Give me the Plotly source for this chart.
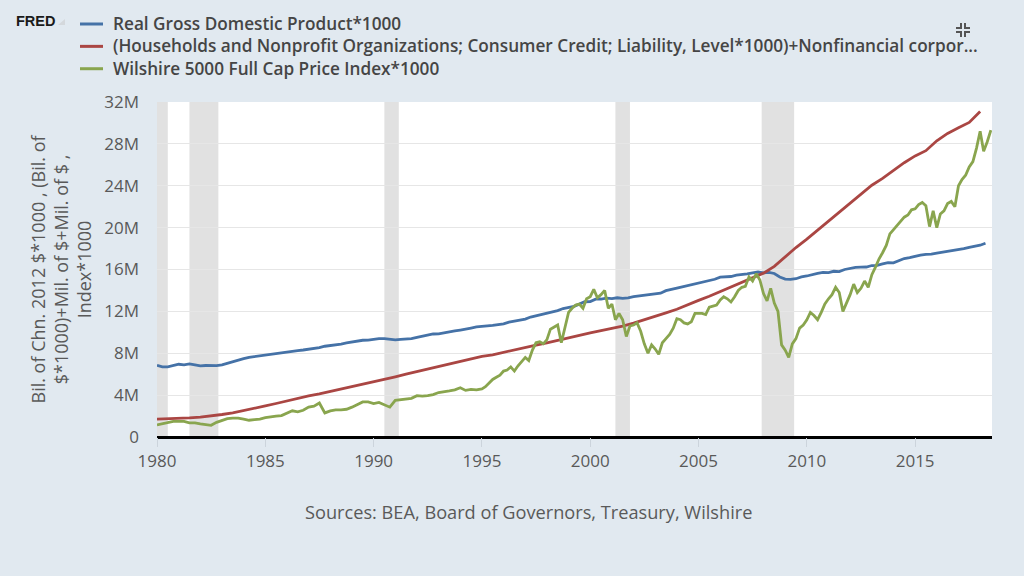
import pandas as pd
import plotly.graph_objects as go

# ---- data (values in millions) ----
gdp_vals = [
    6.84, 6.70, 6.69, 6.81, 6.95, 6.90, 6.98, 6.89, 6.79, 6.83, 6.80, 6.81,
    6.89, 7.05, 7.19, 7.34, 7.48, 7.61, 7.69, 7.75, 7.82, 7.89, 8.01, 8.07,
    8.15, 8.18, 8.26, 8.31, 8.37, 8.46, 8.53, 8.67, 8.72, 8.83, 8.88, 8.98,
    9.09, 9.16, 9.24, 9.26, 9.36, 9.39, 9.40, 9.31, 9.27, 9.33, 9.36, 9.40,
    9.52, 9.63, 9.74, 9.84, 9.86, 9.93, 9.99, 10.13, 10.22, 10.35, 10.41, 10.51,
    10.54, 10.57, 10.66, 10.74, 10.81, 10.98, 11.08, 11.20, 11.26, 11.46, 11.59, 11.69,
    11.84, 11.92, 12.07, 12.27, 12.37, 12.48, 12.69, 12.92, 12.94, 13.17, 13.18, 13.26,
    13.22, 13.30, 13.24, 13.28, 13.40, 13.46, 13.53, 13.55, 13.62, 13.74, 13.98, 14.13,
    14.23, 14.34, 14.46, 14.61, 14.77, 14.84, 14.97, 15.07, 15.27, 15.30, 15.33, 15.46,
    15.49, 15.58, 15.67, 15.76, 15.67, 15.73, 15.62, 15.29, 15.08, 15.06, 15.12, 15.29,
    15.38, 15.52, 15.63, 15.72, 15.71, 15.83, 15.80, 16.00, 16.13, 16.20, 16.22, 16.24,
    16.38, 16.40, 16.53, 16.66, 16.63, 16.84, 17.05, 17.14, 17.28, 17.38, 17.44, 17.46,
    17.56, 17.64, 17.74, 17.78, 17.86, 17.99, 18.12, 18.22, 18.32, 18.51,
]

debt_vals = [
    1.70, 1.73, 1.78, 1.83, 1.90, 2.00, 2.15, 2.30, 2.50, 2.75,
    2.97, 3.20, 3.45, 3.70, 3.92, 4.12, 4.35, 4.57, 4.80, 5.00,
    5.25, 5.50, 5.75, 6.00, 6.25, 6.50, 6.75, 7.00, 7.25, 7.45,
    7.70, 7.85, 8.10, 8.32, 8.55, 8.78, 9.00, 9.25, 9.48, 9.70,
    9.95, 10.15, 10.35, 10.60, 10.88, 11.18, 11.50, 11.85, 12.20, 12.65,
    13.05, 13.45, 13.88, 14.30, 14.75, 15.20, 15.65, 16.30, 17.20, 18.10,
    18.90, 19.75, 20.55, 21.45, 22.30, 23.20, 24.05, 24.70, 25.45, 26.20,
    26.85, 27.35, 28.30, 29.00, 29.55, 30.05, 31.10,
]

# quarterly 1980-1994
wil_q_vals = [
    1.15, 1.25, 1.40, 1.50, 1.50, 1.50, 1.35, 1.35, 1.25, 1.20, 1.12, 1.40,
    1.60, 1.75, 1.80, 1.80, 1.70, 1.60, 1.65, 1.70, 1.85, 1.95, 2.00, 2.05,
    2.30, 2.50, 2.40, 2.55, 2.85, 2.95, 3.25, 2.30, 2.50, 2.60, 2.60, 2.65,
    2.85, 3.10, 3.35, 3.35, 3.20, 3.30, 3.10, 2.85, 3.50, 3.55, 3.65, 3.70,
    3.95, 3.90, 3.95, 4.05, 4.25, 4.30, 4.40, 4.50, 4.70, 4.45, 4.55, 4.50,
]
# every two months 1995-2018
wil_b_vals = [
    4.60, 4.80, 5.20, 5.50, 5.70, 5.90,
    6.30, 6.40, 6.70, 6.30, 6.80, 7.20,
    7.60, 7.30, 8.30, 9.00, 9.10, 8.90,
    9.30, 10.30, 10.50, 10.70, 9.00, 10.60,
    11.90, 12.30, 12.60, 12.70, 12.30, 13.20,
    13.40, 14.10, 13.30, 13.60, 14.00, 12.30,
    12.70, 11.20, 11.80, 11.20, 9.60, 10.60,
    10.70, 10.90, 10.10, 8.90, 8.00, 8.80,
    8.40, 7.90, 9.00, 9.40, 9.80, 10.40,
    11.30, 11.20, 10.90, 10.80, 11.00, 11.80,
    11.80, 11.80, 11.70, 12.40, 12.50, 12.60,
    13.10, 13.40, 13.20, 12.90, 13.40, 14.00,
    14.30, 14.40, 15.30, 14.90, 15.60, 15.00,
    13.70, 13.00, 14.20, 12.80, 12.00, 8.80,
    8.30, 7.60, 8.90, 9.40, 10.40, 10.70,
    11.20, 11.90, 11.60, 11.20, 11.90, 12.70,
    13.20, 13.60, 14.30, 13.80, 12.00, 12.80,
    13.60, 14.60, 13.80, 14.20, 14.90, 14.30,
    15.50, 16.20, 17.00, 17.60, 18.30, 19.40,
    19.80, 20.20, 20.50, 21.00, 21.20, 21.70,
    21.80, 22.20, 22.40, 22.10, 20.10, 21.60,
    20.00, 21.30, 21.60, 22.30, 22.50, 22.00,
    24.00, 24.60, 25.00, 25.80, 26.30, 27.60,
    29.20, 27.30, 28.20, 29.30,
]

recession_start = ["1980-01-01", "1981-07-01", "1990-07-01", "2001-03-01", "2007-12-01"]
recession_end = ["1980-07-01", "1982-11-01", "1991-03-01", "2001-11-01", "2009-06-01"]

y_ticks = [0, 4e6, 8e6, 12e6, 16e6, 20e6, 24e6, 28e6, 32e6]
y_labels = ["0", "4M", "8M", "12M", "16M", "20M", "24M", "28M", "32M"]

names = [
    "Real Gross Domestic Product*1000",
    "(Households and Nonprofit Organizations; Consumer Credit; Liability, Level*1000)+Nonfinancial corpor...",
    "Wilshire 5000 Full Cap Price Index*1000",
]
colors = ["#4572a7", "#aa4643", "#89a54e"]

# ---- figure ----
W, H = 1024, 576
L, R, T, B = 157, 32, 102, 139
pw, ph = W - L - R, H - T - B


def px(x):  # pixel -> paper x
    return (x - L) / pw


def py(y):  # pixel -> paper y
    return (H - B - y) / ph


gdp_dates = pd.date_range("1980-01-01", periods=len(gdp_vals), freq="QS")
debt_dates = pd.date_range("1980-01-01", periods=len(debt_vals), freq="6MS")
wil_dates = pd.date_range("1980-01-01", periods=len(wil_q_vals), freq="QS").append(
    pd.date_range("1995-01-01", periods=len(wil_b_vals), freq="2MS"))
wil_vals = wil_q_vals + wil_b_vals

grey = "#595959"
bg = "#e1e9f0"

fig = go.Figure()
for d, v, n, c in [(gdp_dates, gdp_vals, names[0], colors[0]),
                   (debt_dates, debt_vals, names[1], colors[1]),
                   (wil_dates, wil_vals, names[2], colors[2])]:
    fig.add_trace(go.Scatter(x=d, y=[a * 1e6 for a in v], mode="lines", name=n,
                             line=dict(color=c, width=2.8)))

# recession bars
for s, e in zip(recession_start, recession_end):
    fig.add_shape(type="rect", xref="x", yref="paper", x0=s, x1=e, y0=0, y1=1,
                  fillcolor="#e1e1e1", line_width=0, layer="below")

# legend drawn by hand: one text block, line samples beside each row
leg_size = 17.2
row_gap = leg_size * 1.3
for i, c in enumerate(colors):
    yy = 24 + i * row_gap
    fig.add_shape(type="line", xref="paper", yref="paper", x0=px(80), x1=px(103),
                  y0=py(yy), y1=py(yy), line=dict(color=c, width=3))
annots = [dict(text="<br>".join(names), xref="paper", yref="paper", x=px(111),
               y=py(24 + row_gap), xanchor="left", yanchor="middle", align="left",
               showarrow=False, font=dict(size=leg_size, color="#454545", weight=600))]

# FRED logo bits
annots.append(dict(text="<b>FRED</b>", xref="paper", yref="paper", x=px(14), y=py(21),
                   xanchor="left", yanchor="middle", showarrow=False,
                   font=dict(family="Liberation Sans", size=14.5, color="#1a1a1a")))
fig.add_shape(type="path", xref="paper", yref="paper", xsizemode="pixel", ysizemode="pixel",
              xanchor=px(58), yanchor=py(25), path="M 0,0 L 7,0 L 7,6 Z",
              fillcolor="#d4d8dc", line_width=0)

# compress icon, top right
for dx, dy in [(-1, 1), (1, 1), (-1, -1), (1, -1)]:
    cx, cy = 2 * dx, 2 * dy
    fig.add_shape(type="path", xref="paper", yref="paper", xsizemode="pixel", ysizemode="pixel",
                  xanchor=px(963), yanchor=py(30),
                  path=f"M {cx + 5 * dx},{cy} L {cx},{cy} L {cx},{cy + 5 * dy}",
                  line=dict(color="#555555", width=2))

annots += [
    dict(text="Bil. of Chn. 2012 $*1000 , (Bil. of<br>$*1000)+Mil. of $+Mil. of $ ,<br>Index*1000",
         xref="paper", yref="paper", x=0, y=0.5, xshift=61 - L, textangle=-90,
         showarrow=False, font=dict(size=18, color=grey), xanchor="center", yanchor="middle"),
    dict(text="Sources: BEA, Board of Governors, Treasury, Wilshire",
         xref="paper", yref="paper", x=px(528), y=py(512),
         showarrow=False, font=dict(size=18.2, color=grey), xanchor="center", yanchor="middle"),
]

fig.update_layout(
    width=W, height=H,
    margin=dict(l=L, r=R, t=T, b=B),
    paper_bgcolor=bg, plot_bgcolor="white",
    font=dict(family="Open Sans", color=grey, size=16),
    showlegend=False,
    xaxis=dict(range=["1980-01-01", "2018-07-20"], tickformat="%Y", dtick="M60",
               tick0="1980-01-01", showgrid=False, ticks="outside", ticklen=9,
               tickcolor="#ccd4dc", tickfont=dict(size=17, color=grey),
               showline=False, zeroline=False),
    yaxis=dict(range=[0, 32e6], tickvals=y_ticks, ticktext=y_labels,
               gridcolor="#e6e6e6", gridwidth=1, zeroline=True, zerolinecolor="black",
               zerolinewidth=3, ticklabelstandoff=17, tickfont=dict(size=17, color=grey)),
    annotations=annots,
)

fig.write_html("out.html", config={"displayModeBar": False},
               post_script="document.body.style.margin='0px';")
